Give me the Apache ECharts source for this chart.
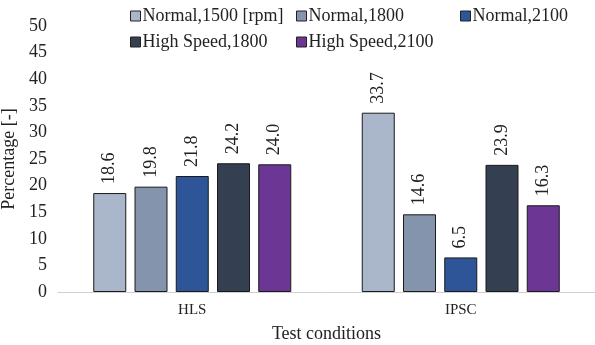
<!DOCTYPE html>
<html><head><meta charset="utf-8">
<script src="https://cdn.jsdelivr.net/npm/echarts@6/dist/echarts.min.js"></script>
<style>html,body{margin:0;padding:0;background:#fff}#c{width:595px;height:345px}</style>
</head><body><div id="c"></div>
<script>
const categories = ['HLS', 'IPSC'];
const seriesNames = ['Normal,1500 [rpm]', 'Normal,1800', 'Normal,2100', 'High Speed,1800', 'High Speed,2100'];
const normal1500 = [18.6, 33.7];
const normal1800 = [19.8, 14.6];
const normal2100 = [21.8, 6.5];
const highSpeed1800 = [24.2, 23.9];
const highSpeed2100 = [24.0, 16.3];
const yTicks = [0, 5, 10, 15, 20, 25, 30, 35, 40, 45, 50];

const colors = ['#aab7cb', '#8494ac', '#2e5597', '#343f51', '#6c3694'];
const values = [normal1500, normal1800, normal2100, highSpeed1800, highSpeed2100];
const font = 'Liberation Serif, Times New Roman, serif';

const chart = echarts.init(document.getElementById('c'));
const legendBase = {
  orient: 'vertical', top: 2, itemWidth: 10, itemHeight: 10, itemGap: 8,
  icon: 'rect', textStyle: { fontFamily: font, fontSize: 18, color: '#222', padding: [0, 0, 0, -3] },
  itemStyle: { borderColor: '#222', borderWidth: 1 }
};
chart.setOption({
  animation: false,
  textStyle: { fontFamily: font },
  legend: [
    Object.assign({}, legendBase, { left: 125, data: [seriesNames[0], seriesNames[3]] }),
    Object.assign({}, legendBase, { left: 291, data: [seriesNames[1], seriesNames[4]] }),
    Object.assign({}, legendBase, { left: 455, data: [seriesNames[2]] })
  ],
  grid: { left: 58, right: 0, top: 26, bottom: 53, containLabel: false, outerBoundsMode: 'none' },
  xAxis: {
    type: 'category', data: categories,
    name: 'Test conditions', nameLocation: 'middle', nameGap: 33,
    nameTextStyle: { fontFamily: font, fontSize: 18, color: '#222' },
    axisLine: { lineStyle: { color: '#d0d0d0', width: 1 } },
    axisTick: { show: false },
    axisLabel: { fontFamily: font, fontSize: 15, color: '#222', margin: 11 }
  },
  yAxis: {
    type: 'value', min: 0, max: 50, interval: 5,
    name: 'Percentage [-]', nameLocation: 'middle', nameGap: 37,
    nameTextStyle: { fontFamily: font, fontSize: 18, color: '#222' },
    axisLine: { show: false }, axisTick: { show: false },
    splitLine: { show: false },
    axisLabel: { fontFamily: font, fontSize: 18, color: '#222', margin: 11,
      formatter: v => yTicks.includes(v) ? String(v) : '' }
  },
  series: values.map((vals, i) => ({
    name: seriesNames[i], type: 'bar', data: vals,
    barWidth: 33, barGap: '25%',
    itemStyle: { color: colors[i], borderColor: '#1a1a1a', borderWidth: 1 },
    label: {
      show: true, position: 'top', rotate: 90, align: 'left', verticalAlign: 'middle',
      distance: 9, fontFamily: font, fontSize: 18, color: '#222',
      formatter: p => p.value.toFixed(1)
    }
  }))
});
</script></body></html>
